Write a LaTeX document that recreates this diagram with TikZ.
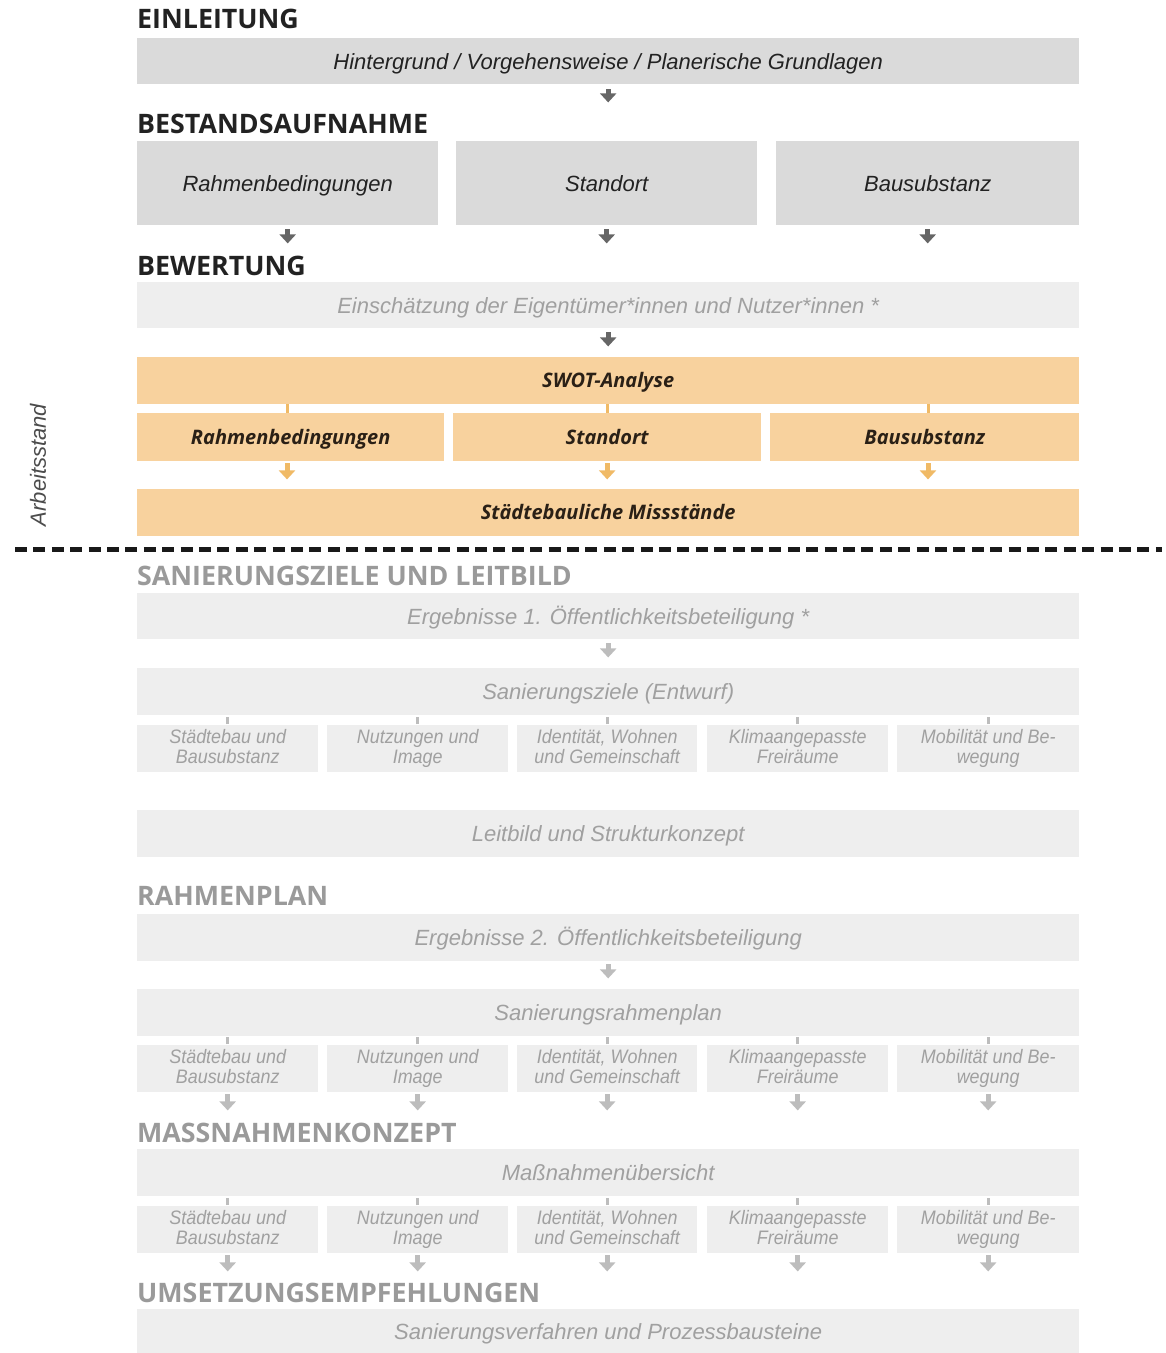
\documentclass[tikz,border=0pt]{standalone}
\usepackage{fontspec}
\usetikzlibrary{arrows.meta}
\newfontfamily\hdfont{Open Sans}
\newfontfamily\itfont{Liberation Sans}
\newfontfamily\nrfont[FakeStretch=0.92]{Liberation Sans}
\newcommand\sst{\rule[-4.5pt]{0pt}{19.5pt}}
\definecolor{txtdark}{HTML}{222222}
\definecolor{ortxt}{HTML}{2A2016}
\definecolor{hdgray}{HTML}{9A9A9A}
\definecolor{boxdark}{HTML}{DADADA}
\definecolor{boxlight}{HTML}{EEEEEE}
\definecolor{txtlight}{HTML}{A0A0A0}
\definecolor{orbox}{HTML}{F8D29E}
\definecolor{orarr}{HTML}{F0BA66}
\definecolor{arrdark}{HTML}{666666}
\definecolor{arrlight}{HTML}{BDBDBD}
\tikzset{
  hd/.style={anchor=base west, inner sep=0pt, text=txtdark, font=\hdfont\bfseries\fontsize{26.8}{30}\selectfont},
  hdg/.style={hd, text=hdgray},
  gbox/.style={anchor=north west, inner sep=0pt, fill=boxdark, text=txtdark, text height=15.8pt, text depth=0pt, font=\itfont\itshape\fontsize{22}{26}\selectfont},
  lbox/.style={gbox, fill=boxlight, text=txtlight},
  obox/.style={anchor=north west, inner sep=0pt, fill=orbox, text=ortxt, text height=14.3pt, text depth=0pt, font=\hdfont\bfseries\itshape\fontsize{20}{24}\selectfont},
  sbox/.style={anchor=north west, inner sep=0pt, fill=boxlight, text=txtlight, align=center, minimum height=47pt, font=\nrfont\itshape\fontsize{19.5}{20}\selectfont\setlength{\lineskiplimit}{-30pt}\setlength{\lineskip}{0pt}},
  darr/.style={draw=arrdark, line width=5pt, -{Triangle[width=16pt,length=9pt]}},
  larr/.style={darr, draw=arrlight},
  oarr/.style={darr, draw=orarr},
  otick/.style={draw=orarr, line width=3pt},
  ltick/.style={draw=arrlight, line width=3pt},
}
\begin{document}
\begin{tikzpicture}[x=1pt,y=-1pt]
\useasboundingbox (0,0) rectangle (1166,1353);
\fill[white] (0,0) rectangle (1166,1353);
% EINLEITUNG
\node[hd] (h1) at (137,28) {EINLEITUNG};
\node[gbox, minimum width=942pt, minimum height=46pt] (b1) at (137,38) {Hintergrund / Vorgehensweise / Planerische Grundlagen};
\draw[darr] (b1.south) ++(0,5) -- ++(0,13);
% BESTANDSAUFNAHME
\node[hd] (h2) at (137,133) {BESTANDSAUFNAHME};
\node[gbox, minimum width=301pt, minimum height=84pt] (r1) at (137,141) {Rahmenbedingungen};
\node[gbox, minimum width=301pt, minimum height=84pt] (r2) at (456,141) {Standort};
\node[gbox, minimum width=303pt, minimum height=84pt] (r3) at (776,141) {Bausubstanz};
\foreach \n in {r1,r2,r3}{\draw[darr] (\n.south) ++(0,4) -- ++(0,14);}
% BEWERTUNG
\node[hd] (h3) at (137,275) {BEWERTUNG};
\node[lbox, minimum width=942pt, minimum height=46pt] (ev) at (137,282) {Einschätzung der Eigentümer*innen und Nutzer*innen *};
\draw[darr] (ev.south) ++(0,4) -- ++(0,14);
\node[obox, minimum width=942pt, minimum height=47pt] (swot) at (137,357) {SWOT-Analyse};
\node[obox, minimum width=307pt, minimum height=48pt] (s1) at (137,413) {Rahmenbedingungen};
\node[obox, minimum width=308pt, minimum height=48pt] (s2) at (453,413) {Standort};
\node[obox, minimum width=309pt, minimum height=48pt] (s3) at (770,413) {Bausubstanz};
\draw[otick] (s1.north -| 287,0) -- (swot.south -| 287,0);
\draw[otick] (s2.north) -- (swot.south -| s2.north);
\draw[otick] (s3.north -| 928,0) -- (swot.south -| 928,0);
\node[obox, minimum width=942pt, minimum height=47pt] (miss) at (137,489) {Städtebauliche Missstände};
\draw[oarr] (s1.south -| 287,0) ++(0,2) -- ++(0,16);
\draw[oarr] (s2.south) ++(0,2) -- ++(0,16);
\draw[oarr] (s3.south -| 928,0) ++(0,2) -- ++(0,16);
% Arbeitsstand and dashed line
\node[anchor=center, rotate=90, inner sep=0pt, text=black!70, font=\itfont\itshape\fontsize{22}{24}\selectfont] (arb) at (38,465) {Arbeitsstand};
\coordinate (dl) at (15,549);
\coordinate (dr) at (1162,549);
\draw[line width=5pt, dash pattern=on 12pt off 6.4pt, black!90] (dl) -- (dr);
% SANIERUNGSZIELE
\node[hdg] (h4) at (137,585) {SANIERUNGSZIELE UND LEITBILD};
\node[lbox, minimum width=942pt, minimum height=46pt] (erg1) at (137,593) {Ergebnisse 1. Öffentlichkeitsbeteiligung *};
\draw[larr] (erg1.south) ++(0,4) -- ++(0,14);
\node[lbox, minimum width=942pt, minimum height=47pt] (ziel) at (137,668) {Sanierungsziele (Entwurf)};
\node[sbox, minimum width=181pt] (z1) at (137,725) {\sst Städtebau und\\\sst Bausubstanz};
\node[sbox, minimum width=181pt] (z2) at (327,725) {\sst Nutzungen und\\\sst Image};
\node[sbox, minimum width=180pt] (z3) at (517,725) {\sst Identität, Wohnen\\\sst und Gemeinschaft};
\node[sbox, minimum width=181pt] (z4) at (707,725) {\sst Klimaangepasste\\\sst Freiräume};
\node[sbox, minimum width=182pt] (z5) at (897,725) {\sst Mobilität und Be-\\\sst wegung};
\foreach \n in {z1,z2,z3,z4,z5}{\draw[ltick] (\n.north) ++(0,-1) -- ++(0,-7);}
\node[lbox, minimum width=942pt, minimum height=47pt] (leit) at (137,810) {Leitbild und Strukturkonzept};
% RAHMENPLAN
\node[hdg] (h5) at (137,905) {RAHMENPLAN};
\node[lbox, minimum width=942pt, minimum height=47pt] (erg2) at (137,914) {Ergebnisse 2. Öffentlichkeitsbeteiligung};
\draw[larr] (erg2.south) ++(0,3) -- ++(0,14);
\node[lbox, minimum width=942pt, minimum height=47pt] (rplan) at (137,989) {Sanierungsrahmenplan};
\node[sbox, minimum width=181pt] (p1) at (137,1045) {\sst Städtebau und\\\sst Bausubstanz};
\node[sbox, minimum width=181pt] (p2) at (327,1045) {\sst Nutzungen und\\\sst Image};
\node[sbox, minimum width=180pt] (p3) at (517,1045) {\sst Identität, Wohnen\\\sst und Gemeinschaft};
\node[sbox, minimum width=181pt] (p4) at (707,1045) {\sst Klimaangepasste\\\sst Freiräume};
\node[sbox, minimum width=182pt] (p5) at (897,1045) {\sst Mobilität und Be-\\\sst wegung};
\foreach \n in {p1,p2,p3,p4,p5}{
  \draw[ltick] (\n.north) ++(0,-1) -- ++(0,-7);
  \draw[larr] (\n.south) ++(0,2) -- ++(0,16);}
% MASSNAHMENKONZEPT
\node[hdg] (h6) at (137,1142) {MASSNAHMENKONZEPT};
\node[lbox, minimum width=942pt, minimum height=47pt] (mass) at (137,1149) {Maßnahmenübersicht};
\node[sbox, minimum width=181pt] (m1) at (137,1206) {\sst Städtebau und\\\sst Bausubstanz};
\node[sbox, minimum width=181pt] (m2) at (327,1206) {\sst Nutzungen und\\\sst Image};
\node[sbox, minimum width=180pt] (m3) at (517,1206) {\sst Identität, Wohnen\\\sst und Gemeinschaft};
\node[sbox, minimum width=181pt] (m4) at (707,1206) {\sst Klimaangepasste\\\sst Freiräume};
\node[sbox, minimum width=182pt] (m5) at (897,1206) {\sst Mobilität und Be-\\\sst wegung};
\foreach \n in {m1,m2,m3,m4,m5}{
  \draw[ltick] (\n.north) ++(0,-1) -- ++(0,-7);
  \draw[larr] (\n.south) ++(0,2) -- ++(0,16);}
% UMSETZUNG
\node[hdg] (h7) at (137,1302) {UMSETZUNGSEMPFEHLUNGEN};
\node[lbox, minimum width=942pt, minimum height=44pt] (umset) at (137,1309) {Sanierungsverfahren und Prozessbausteine};
\end{tikzpicture}
\end{document}
